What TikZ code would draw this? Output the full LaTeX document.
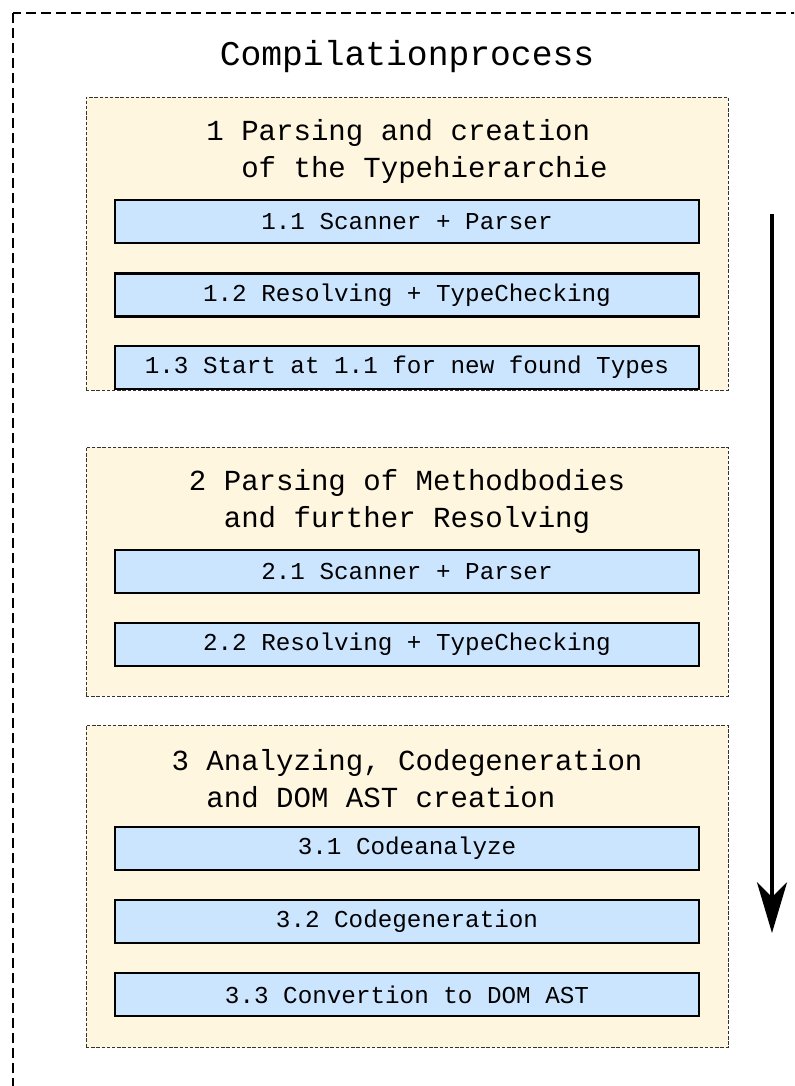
\documentclass[tikz,border=0pt]{standalone}
\usepackage{fontspec}
\setmonofont{Liberation Mono}
\usetikzlibrary{arrows.meta}
\definecolor{phasefill}{HTML}{FFF6E0}
\definecolor{stepfill}{HTML}{CCE5FF}
\tikzset{
	outerframe/.style={draw=black, line width=2.2pt, dash pattern=on 7.5pt off 3.75pt},
	phasebox/.style={shape=rectangle, draw=black!80, fill=phasefill, line width=0.6pt, dash pattern=on 2.6pt off 1.3pt, minimum width=481.5pt},
	stepbox/.style={shape=rectangle, draw=black, fill=stepfill, line width=1.6pt, minimum width=438pt, minimum height=32.25pt, font=\ttfamily\fontsize{18.2}{22}\selectfont},
	phasetitle/.style={align=center, font=\ttfamily\fontsize{21.8}{27.75}\selectfont},
	flowarrow/.style={draw=black, line width=2.3pt, -{Stealth[length=38pt, width=22.5pt, inset=11pt]}}
}
\begin{document}
\begin{tikzpicture}[x=0.75pt, y=-0.75pt]
			\useasboundingbox (0,0) rectangle (794,1086);
			\clip (0,0) rectangle (794,1086);
			%Outer frame:
			\draw[outerframe] (13,13) rectangle (830,1120);
			\node (title) at (407,57) [font=\ttfamily\fontsize{26}{30}\selectfont] {Compilationprocess};
			%Phase 1:
			\node (phase1) at (407,243.5) [phasebox, minimum height=219.75pt] {};
			\node (phase1title) at (407,151.5) [phasetitle] {1 Parsing and creation\hphantom{x}\\\hphantom{xx}of the Typehierarchie};
			\path
				(407,221.5) node (step11) [stepbox] {1.1 Scanner + Parser}
				(407,295) node (step12) [stepbox] {1.2 Resolving + TypeChecking}
				(407,367.5) node (step13) [stepbox] {1.3 Start at 1.1 for new found Types};
			%Phase 2:
			\node (phase2) at (407,571.5) [phasebox, minimum height=186.75pt] {};
			\node (phase2title) at (407,501.5) [phasetitle] {2 Parsing of Methodbodies\\and further Resolving};
			\path
				(407,571.5) node (step21) [stepbox] {2.1 Scanner + Parser}
				(407,644.5) node (step22) [stepbox] {2.2 Resolving + TypeChecking};
			%Phase 3:
			\node (phase3) at (407,886.5) [phasebox, minimum height=241.5pt] {};
			\node (phase3title) at (407,778.5) [phasetitle] {3 Analyzing, Codegeneration\\and DOM AST creation\hphantom{xxx}};
			\path
				(407,848.5) node (step31) [stepbox] {3.1 Codeanalyze}
				(407,921.5) node (step32) [stepbox] {3.2 Codegeneration}
				(407,994.5) node (step33) [stepbox] {3.3 Convertion to DOM AST};
			%Flow arrow:
			\coordinate (flowtop) at (772,214);
			\coordinate (flowend) at (772,933);
			\draw[flowarrow] (flowtop) -- (flowend);
\end{tikzpicture}
\end{document}
